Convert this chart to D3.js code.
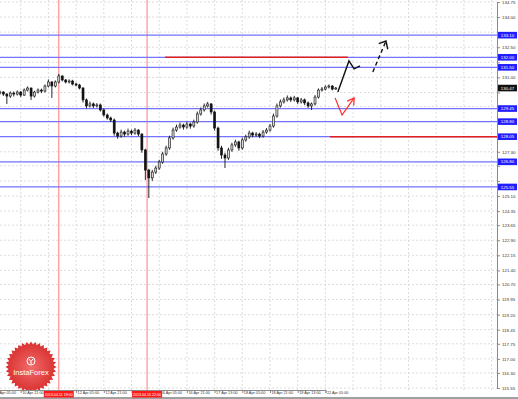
<!DOCTYPE html>
<html>
<head>
<meta charset="utf-8">
<script src="https://cdn.jsdelivr.net/npm/d3@7"></script>
<style>
body { margin: 0; background: #fff; }
svg { display: block; font-family: "Liberation Sans", Arial, sans-serif; }
</style>
</head>
<body>
<div id="chart"></div>
<script>
// 2-hour candles, bar index 1..99; each bar opens at the previous close
var firstOpen = 130.17;
var closes = [130.22,130.27,130.17,130.07,130.22,130.17,130.27,130.12,130.37,130.47,
  130.07,130.27,130.37,130.32,130.57,130.77,130.57,130.77,131.07,130.87,
  130.77,130.82,130.67,130.62,130.47,129.88,129.58,129.68,129.58,129.63,
  129.38,129.13,128.98,128.88,128.23,128.08,128.28,128.18,128.33,128.23,
  128.38,128.18,127.39,126.39,126.00,126.29,126.49,126.79,127.19,127.49,
  127.99,128.38,128.53,128.63,128.53,128.68,128.58,128.78,129.18,129.38,
  129.58,129.68,129.28,128.48,127.49,127.14,126.99,127.39,127.64,127.79,
  127.49,127.89,128.04,128.23,128.13,128.18,128.08,128.28,128.38,128.58,
  129.08,129.58,129.78,129.88,129.98,129.88,129.98,129.78,129.88,129.73,
  129.58,129.68,130.02,130.37,130.42,130.52,130.57,130.42,130.47];
var highs = [130.30,130.35,130.32,130.22,130.30,130.30,130.35,130.32,130.45,130.55,
  130.50,130.33,130.45,130.44,130.65,130.90,130.82,130.85,131.17,131.10,
  130.92,130.90,130.88,130.74,130.68,130.52,129.95,129.80,129.75,129.72,
  129.70,129.45,129.20,129.05,128.95,128.30,128.40,128.35,128.45,128.40,
  128.48,128.42,128.22,127.45,126.45,126.40,126.60,126.90,127.30,127.60,
  128.10,128.50,128.65,128.75,128.70,128.80,128.75,128.90,129.30,129.50,
  129.70,129.78,129.72,129.35,128.55,127.60,127.25,127.50,127.75,127.90,
  127.85,128.00,128.15,128.35,128.30,128.28,128.25,128.38,128.48,128.68,
  129.20,129.70,129.90,130.00,130.10,130.05,130.08,130.02,129.98,129.95,
  129.80,129.75,130.12,130.45,130.52,130.60,130.65,130.62,130.52];
var lows = [130.10,130.15,130.08,129.68,129.98,130.05,130.10,130.02,130.08,130.30,
  129.88,130.00,130.20,130.22,130.25,130.50,129.98,130.50,130.70,130.80,
  130.70,130.70,130.60,130.55,130.40,129.75,129.45,129.50,129.48,129.50,
  129.30,129.05,128.90,128.78,128.10,127.95,128.00,128.05,128.10,128.12,
  128.15,128.08,127.25,125.90,125.00,125.85,126.20,126.40,126.70,127.10,
  127.40,127.90,128.30,128.45,128.40,128.45,128.45,128.50,128.70,129.10,
  129.30,129.50,129.15,128.35,127.35,126.95,126.49,126.90,127.30,127.55,
  127.35,127.40,127.80,127.95,128.02,128.05,127.98,128.00,128.20,128.30,
  128.50,129.00,129.50,129.70,129.80,129.78,129.80,129.68,129.70,129.62,
  129.48,129.38,129.60,129.95,130.30,130.35,130.45,130.35,130.38];

var timeTicks = [0, 8, 16, 24, 32, 40, 48, 56, 64, 72, 80, 88, 96];
var timeLabels = ["10 Apr 05:00", "10 Apr 21:00", "11 Apr 13:00", "12 Apr 05:00", "12 Apr 21:00",
  "15 Apr 13:00", "16 Apr 05:00", "16 Apr 21:00", "17 Apr 13:00", "18 Apr 05:00",
  "18 Apr 21:00", "19 Apr 13:00", "22 Apr 05:00"];

var priceTicks = [115.55, 116.30, 117.00, 117.75, 118.45, 119.20, 119.95, 120.70, 121.40,
  122.15, 122.90, 123.65, 124.35, 125.10, 125.85, 126.60, 127.30, 128.05, 128.80,
  129.55, 130.25, 131.00, 131.75, 132.50, 133.25, 134.00, 134.75];

var levels = [133.10, 132.00, 131.50, 129.45, 128.80, 128.05, 126.80, 125.55];
var lastPrice = 130.47;

var markerBars = [19, 44.5];
var markerLabels = ["2013.04.11 19:00", "2013.04.15 22:00"];

// [fromBar, toBar, price]
var redLevels = [[49.7, 102.5, 132.00], [97.3, 160, 128.05]];

// forecast arrows as [bar, price]
var blackPath = [[99.6, 130.27], [102.8, 131.82], [104.3, 131.42], [106.0, 131.57]];
var dashedPath = [[109.7, 131.27], [113.5, 132.81]];
var dashedHead = [[111.4, 132.68], [113.5, 132.81], [114.0, 132.40]];
var redPath = [[98.8, 129.98], [100.8, 129.13], [104.3, 129.98]];
var redHead = [[102.3, 129.82], [104.3, 129.98], [104.2, 129.60]];

var W = 518, H = 399, plotW = 497, plotH = 390;

var svg = d3.select("#chart").append("svg")
  .attr("width", W).attr("height", H);

var x = d3.scaleLinear().domain([0, 96]).range([-7, 325.4]);
var y = d3.scaleLinear().domain([115.55, 134.75]).range([388, 2]);

svg.append("defs").append("clipPath").attr("id", "plot")
  .append("rect").attr("width", plotW).attr("height", plotH);

var g = svg.append("g").attr("clip-path", "url(#plot)");

// grid
var gridBars = d3.range(0, 150, 8);
g.selectAll(".vg").data(gridBars).enter().append("line")
  .attr("x1", function(d) { return x(d); }).attr("x2", function(d) { return x(d); })
  .attr("y1", 0).attr("y2", plotH)
  .attr("stroke", "#cfcfcf").attr("stroke-width", 0.7).attr("stroke-dasharray", "2,2");
g.selectAll(".hg").data(priceTicks).enter().append("line")
  .attr("x1", 0).attr("x2", plotW)
  .attr("y1", function(d) { return y(d); }).attr("y2", function(d) { return y(d); })
  .attr("stroke", "#cfcfcf").attr("stroke-width", 0.7).attr("stroke-dasharray", "2,2");

// logo
var logo = g.append("g").attr("transform", "translate(31,367)");
var grad = svg.select("defs").append("radialGradient").attr("id", "lg");
grad.append("stop").attr("offset", "0%").attr("stop-color", "#f26b6b");
grad.append("stop").attr("offset", "100%").attr("stop-color", "#d8302f");
var teeth = d3.range(0, 73).map(function(k) {
  return [k * Math.PI * 2 / 72, k % 2 ? 22.5 : 25.5];
});
logo.append("path")
  .attr("d", d3.lineRadial().angle(function(d) { return d[0]; }).radius(function(d) { return d[1]; })(teeth) + "Z")
  .attr("fill", "url(#lg)");
logo.append("circle").attr("cy", -6).attr("r", 4).attr("fill", "none")
  .attr("stroke", "#fff").attr("stroke-width", 1);
logo.append("path").attr("d", "M-2,-8 L0,-5.5 L2,-8 M0,-5.5 L0,-3")
  .attr("fill", "none").attr("stroke", "#fff").attr("stroke-width", 1);
logo.append("text").attr("y", 8).attr("text-anchor", "middle")
  .attr("fill", "#fff").attr("font-size", 7.5).text("InstaForex");

// vertical marker lines
g.selectAll(".mk").data(markerBars).enter().append("line")
  .attr("x1", function(d) { return x(d); }).attr("x2", function(d) { return x(d); })
  .attr("y1", 0).attr("y2", plotH)
  .attr("stroke", "#ff7a7a").attr("stroke-width", 1);

// horizontal levels
g.selectAll(".lv").data(levels).enter().append("line")
  .attr("x1", 0).attr("x2", plotW)
  .attr("y1", function(d) { return y(d); }).attr("y2", function(d) { return y(d); })
  .attr("stroke", "#7373ff").attr("stroke-width", 1.2);

g.selectAll(".rl").data(redLevels).enter().append("line")
  .attr("x1", function(d) { return x(d[0]); }).attr("x2", function(d) { return x(d[1]); })
  .attr("y1", function(d) { return y(d[2]); }).attr("y2", function(d) { return y(d[2]); })
  .attr("stroke", "#e02020").attr("stroke-width", 1.6);

// candles
var bars = closes.map(function(c, k) {
  return { i: k + 1, o: k ? closes[k - 1] : firstOpen, c: c, h: highs[k], l: lows[k] };
});
var cg = g.append("g");
cg.selectAll(".wick").data(bars).enter().append("line")
  .attr("x1", function(d) { return x(d.i); }).attr("x2", function(d) { return x(d.i); })
  .attr("y1", function(d) { return y(d.h); }).attr("y2", function(d) { return y(d.l); })
  .attr("stroke", "#111").attr("stroke-width", 0.9);
cg.selectAll(".body").data(bars).enter().append("rect")
  .attr("x", function(d) { return x(d.i) - 1; })
  .attr("width", 2)
  .attr("y", function(d) { return y(Math.max(d.o, d.c)); })
  .attr("height", function(d) { return Math.max(0.8, Math.abs(y(d.o) - y(d.c))); })
  .attr("fill", function(d) { return d.c >= d.o ? "#d8d8d8" : "#111"; })
  .attr("stroke", "#111").attr("stroke-width", 0.6);

// forecast arrows
var line = d3.line().x(function(d) { return x(d[0]); }).y(function(d) { return y(d[1]); });
g.append("path").attr("d", line(blackPath)).attr("fill", "none")
  .attr("stroke", "#111").attr("stroke-width", 1.4);
g.append("path").attr("d", line(dashedPath)).attr("fill", "none")
  .attr("stroke", "#111").attr("stroke-width", 1.4).attr("stroke-dasharray", "4,3");
g.append("path").attr("d", line(dashedHead)).attr("fill", "none")
  .attr("stroke", "#111").attr("stroke-width", 1.4);
g.append("path").attr("d", line(redPath)).attr("fill", "none")
  .attr("stroke", "#ff2a2a").attr("stroke-width", 1.2);
g.append("path").attr("d", line(redHead)).attr("fill", "none")
  .attr("stroke", "#ff2a2a").attr("stroke-width", 1.2);

// axes
var tagged = levels.concat([lastPrice]);
var yAxis = svg.append("g").attr("transform", "translate(" + plotW + ",0)")
  .call(d3.axisRight(y).tickValues(priceTicks).tickFormat(d3.format(".2f")).tickSize(3).tickPadding(2));
var xAxis = svg.append("g").attr("transform", "translate(0," + plotH + ")")
  .call(d3.axisBottom(x).tickValues(timeTicks)
    .tickFormat(function(d, k) { return timeLabels[k]; }).tickSize(3).tickPadding(0));
[yAxis, xAxis].forEach(function(a) {
  a.select(".domain").attr("stroke", "#8a8a8a");
  a.selectAll(".tick line").attr("stroke", "#8a8a8a");
  a.selectAll("text").attr("fill", "#333").attr("font-size", 4.4)
    .attr("font-family", "Liberation Sans, Arial, sans-serif");
});
// tick labels sitting fully under a tag are covered by it
yAxis.selectAll(".tick text").filter(function(d) {
  return tagged.some(function(p) { return Math.abs(y(p) - y(d)) < 6.5; });
}).remove();
xAxis.selectAll(".tick text").filter(function(d) {
  return markerBars.some(function(b) { return x(d) > x(b) - 20 && x(d) < x(b) - 5; });
}).remove();
xAxis.selectAll("text").attr("text-anchor", "start").attr("dx", 1).attr("dy", "0.2em")
  .attr("font-size", 4.1).attr("textLength", 21.5).attr("lengthAdjust", "spacingAndGlyphs");
svg.append("line").attr("x1", 0).attr("x2", W).attr("y1", H - 1).attr("y2", H - 1)
  .attr("stroke", "#a0a0a0").attr("stroke-width", 2);

// level labels on the price axis
var tags = svg.append("g");
function tag(price, color) {
  var t = tags.append("g").attr("transform", "translate(" + (plotW + 1) + "," + y(price) + ")");
  t.append("rect").attr("x", 0).attr("y", -3.3).attr("width", 19).attr("height", 6.6).attr("fill", color);
  t.append("text").attr("x", 9.5).attr("y", 1.6).attr("text-anchor", "middle")
    .attr("fill", "#fff").attr("font-size", 4.4).text(price.toFixed(2));
}
levels.forEach(function(p) { tag(p, "#1e1eff"); });
tag(lastPrice, "#111");

// marker labels on the time axis
markerBars.forEach(function(b, k) {
  var m = svg.append("g").attr("transform", "translate(" + x(b) + "," + (plotH + 1) + ")");
  m.append("rect").attr("x", -15).attr("y", 0).attr("width", 30).attr("height", 6.5).attr("fill", "#ff1a1a");
  m.append("text").attr("x", -14).attr("y", 4.8)
    .attr("fill", "#fff").attr("font-size", 4.1)
    .attr("textLength", 28).attr("lengthAdjust", "spacingAndGlyphs").text(markerLabels[k]);
});
</script>
</body>
</html>
